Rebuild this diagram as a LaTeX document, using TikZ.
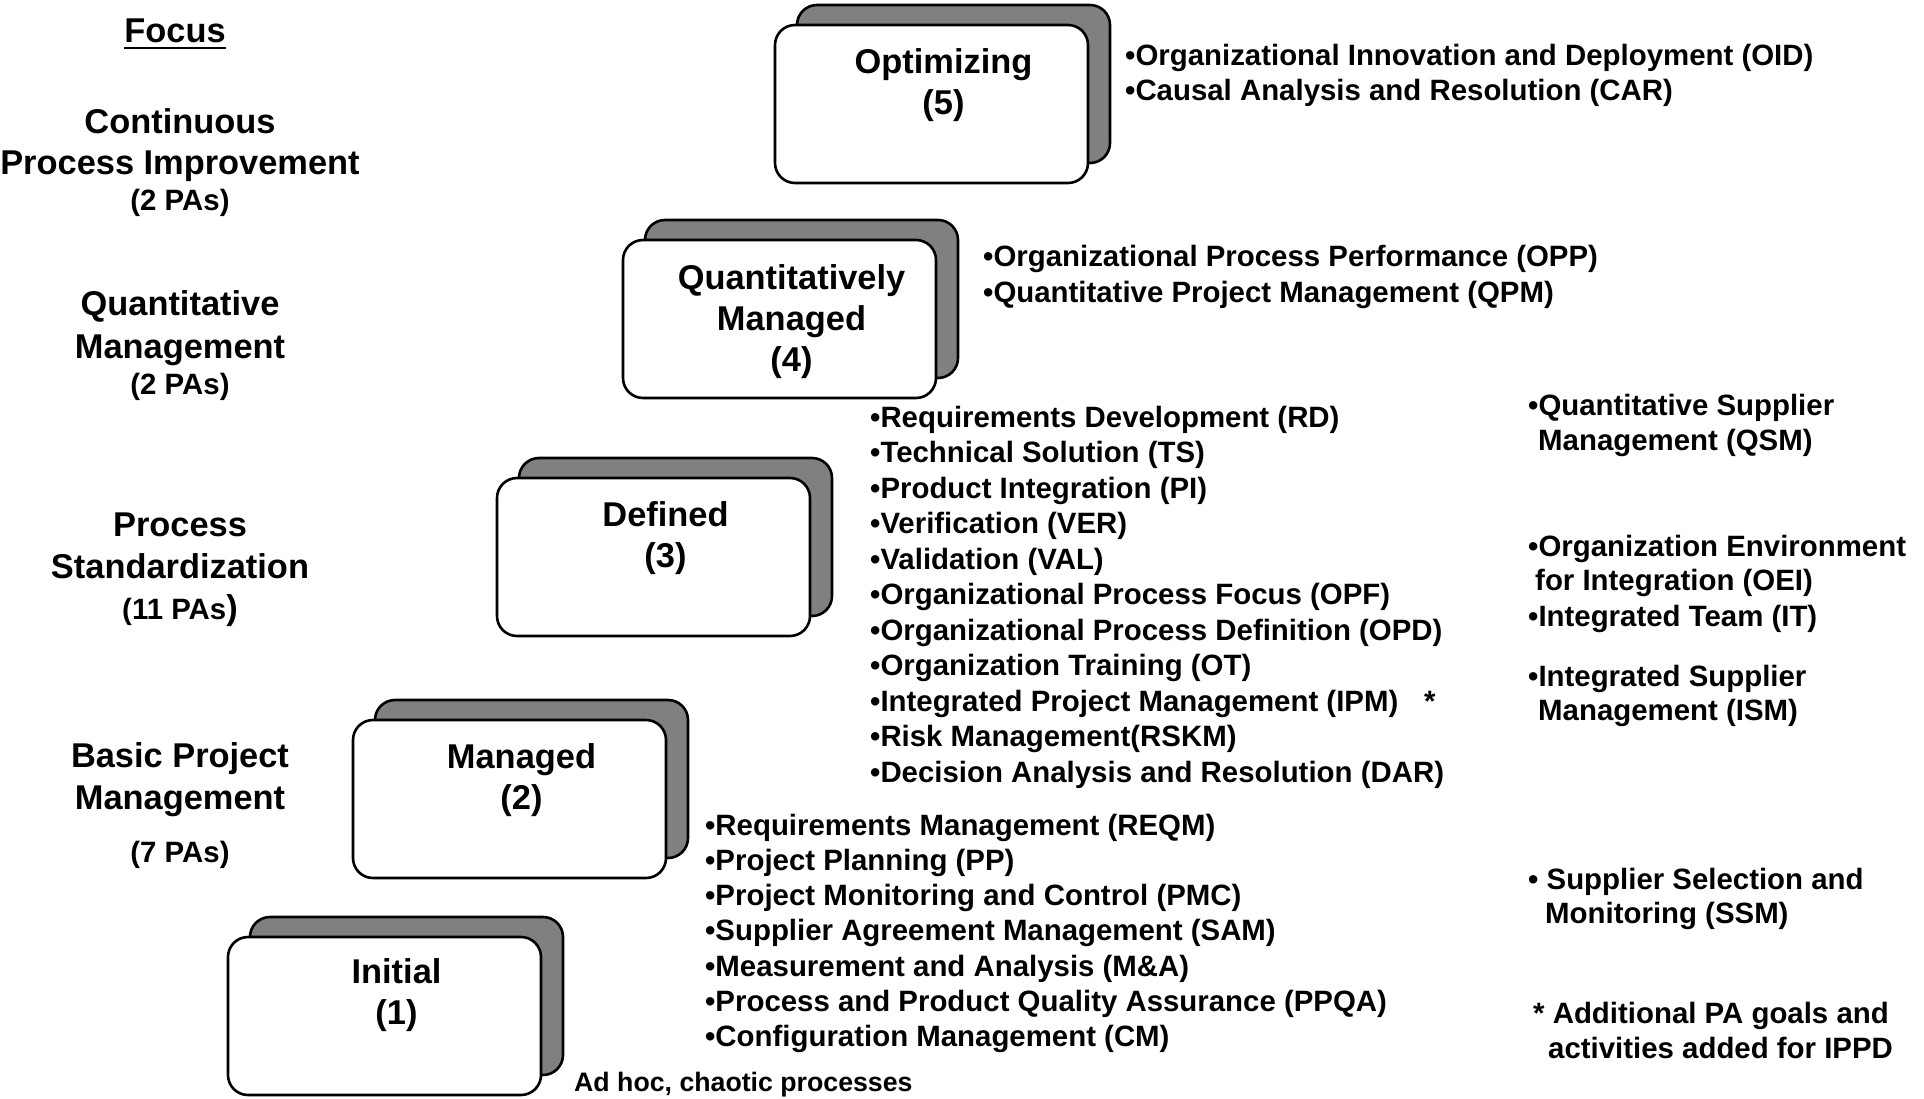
\documentclass[tikz,border=0pt]{standalone}
\usepackage{fontspec}
\setmainfont{Liberation Sans}
\usetikzlibrary{calc}
\definecolor{backgray}{HTML}{808080}
\tikzset{
  boxbase/.style={draw=black, line width=2.6pt, rounded corners=20pt,
    minimum width=313pt, minimum height=158pt, inner sep=0pt},
  backbox/.style={boxbase, fill=backgray},
  frontbox/.style={boxbase, fill=white},
  bigtxt/.style={font=\fontsize{34.4}{41}\selectfont\bfseries, anchor=base, inner sep=0pt},
  patxt/.style={font=\fontsize{29.4}{35}\selectfont\bfseries, anchor=base, inner sep=0pt},
  itemtxt/.style={font=\fontsize{29.4}{35}\selectfont\bfseries, anchor=base west, inner sep=0pt},
  smalltxt/.style={font=\fontsize{26.7}{32}\selectfont\bfseries, anchor=base west, inner sep=0pt},
}
\begin{document}
\begin{tikzpicture}[x=1pt,y=-1pt]
\useasboundingbox[fill=white] (0,0) rectangle (1924,1099);

% ---- level boxes ----
% Optimizing (5): left 775, top 25
\node[backbox]  (k5) at (775+22+156.5, 25-20+79) {};
\node[frontbox] (f5) at (775+156.5, 25+79) {};
% Quantitatively Managed (4): left 623, top 240
\node[backbox]  (k4) at (623+22+156.5, 240-20+79) {};
\node[frontbox] (f4) at (623+156.5, 240+79) {};
% Defined (3): left 497, top 478
\node[backbox]  (k3) at (497+22+156.5, 478-20+79) {};
\node[frontbox] (f3) at (497+156.5, 478+79) {};
% Managed (2): left 353, top 720
\node[backbox]  (k2) at (353+22+156.5, 720-20+79) {};
\node[frontbox] (f2) at (353+156.5, 720+79) {};
% Initial (1): left 228, top 937
\node[backbox]  (k1) at (228+22+156.5, 937-20+79) {};
\node[frontbox] (f1) at (228+156.5, 937+79) {};

% ---- box labels ----
\node[bigtxt] (t5a) at ($(f5.north)+(12,50)$) {Optimizing};
\node[bigtxt] (t5b) at ($(f5.north)+(12,91)$) {(5)};
\node[bigtxt] (t4a) at ($(f4.north)+(12,51)$) {Quantitatively};
\node[bigtxt] (t4b) at ($(f4.north)+(12,92)$) {Managed};
\node[bigtxt] (t4c) at ($(f4.north)+(12,133)$) {(4)};
\node[bigtxt] (t3a) at ($(f3.north)+(12,50)$) {Defined};
\node[bigtxt] (t3b) at ($(f3.north)+(12,91)$) {(3)};
\node[bigtxt] (t2a) at ($(f2.north)+(12,50)$) {Managed};
\node[bigtxt] (t2b) at ($(f2.north)+(12,91)$) {(2)};
\node[bigtxt] (t1a) at ($(f1.north)+(12,48)$) {Initial};
\node[bigtxt] (t1b) at ($(f1.north)+(12,89)$) {(1)};

% ---- focus column ----
\node[bigtxt] (focus) at (175,43) {Focus};
\draw[line width=2.8pt] ($(focus.base west)+(0,5)$) -- ($(focus.base east)+(0,5)$);
\node[bigtxt] (c5a) at (180,134) {Continuous};
\node[bigtxt] (c5b) at (180,175) {Process Improvement};
\node[patxt]  (c5c) at (180,211) {(2 PAs)};
\node[bigtxt] (c4a) at (180,316) {Quantitative};
\node[bigtxt] (c4b) at (180,358) {Management};
\node[patxt]  (c4c) at (180,394) {(2 PAs)};
\node[bigtxt] (c3a) at (180,536) {Process};
\node[bigtxt] (c3b) at (180,578) {Standardization};
\node[patxt]  (c3c) at (180,619) {(11 PAs{\fontsize{34.4}{41}\selectfont)}};
\node[bigtxt] (c2a) at (180,767) {Basic Project};
\node[bigtxt] (c2b) at (180,809) {Management};
\node[patxt]  (c2c) at (180,862) {(7 PAs)};

% ---- process areas ----
\node[itemtxt] (l5-1) at (1125,66)  {•Organizational Innovation and Deployment (OID)};
\node[itemtxt] (l5-2) at (1125,101) {•Causal Analysis and Resolution (CAR)};

\node[itemtxt] (l4-1) at (983,267) {•Organizational Process Performance (OPP)};
\node[itemtxt] (l4-2) at (983,302) {•Quantitative Project Management (QPM)};

\foreach \t [count=\i] in {
  {•Requirements Development (RD)},
  {•Technical Solution (TS)},
  {•Product Integration (PI)},
  {•Verification (VER)},
  {•Validation (VAL)},
  {•Organizational Process Focus (OPF)},
  {•Organizational Process Definition (OPD)},
  {•Organization Training (OT)},
  {•Integrated Project Management (IPM)},
  {•Risk Management(RSKM)},
  {•Decision Analysis and Resolution (DAR)}}
  \node[itemtxt] (l3-\i) at (870, 427+35.5*\i-35.5) {\t};
\node[itemtxt] (ast) at (1424,711) {*};

\foreach \t [count=\i] in {
  {•Requirements Management (REQM)},
  {•Project Planning (PP)},
  {•Project Monitoring and Control (PMC)},
  {•Supplier Agreement Management (SAM)},
  {•Measurement and Analysis (M\&A)},
  {•Process and Product Quality Assurance (PPQA)},
  {•Configuration Management (CM)}}
  \node[itemtxt] (l2-\i) at (705, 835+35.3*\i-35.3) {\t};

\node[smalltxt] (adhoc) at (574,1091) {Ad hoc, chaotic processes};

% ---- IPPD column ----
\node[itemtxt] (r1a) at (1528,415) {•Quantitative Supplier};
\node[itemtxt] (r1b) at (1538,450) {Management (QSM)};
\node[itemtxt] (r2a) at (1528,556) {•Organization Environment};
\node[itemtxt] (r2b) at (1535,590) {for Integration (OEI)};
\node[itemtxt] (r3a) at (1528,626) {•Integrated Team (IT)};
\node[itemtxt] (r4a) at (1528,686) {•Integrated Supplier};
\node[itemtxt] (r4b) at (1538,720) {Management (ISM)};
\node[itemtxt] (r5a) at (1528,889) {• Supplier Selection and};
\node[itemtxt] (r5b) at (1545,923) {Monitoring (SSM)};
\node[itemtxt] (r6a) at (1533,1023) {* Additional PA goals and};
\node[itemtxt] (r6b) at (1548,1058) {activities added for IPPD};
\end{tikzpicture}
\end{document}
